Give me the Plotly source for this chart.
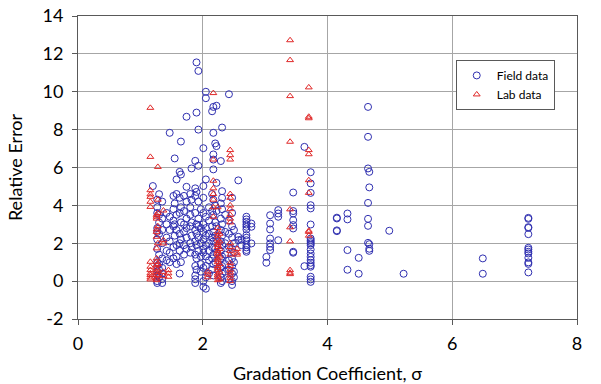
import plotly.graph_objects as go

# Field data: x-column -> list of relative errors
field_cols = {
    1.20: [5.02],
    1.27: [4.3, 3.9, 3.6, 2.8, 2.6, 2.2, 1.7, 1.0, 0.8, 0.5, 0.3, 0.0, -0.1],
    1.30: [4.59, 3.5, 3.1, 2.5, 1.4, 0.9, 0.6, 0.2],
    1.35: [4.2, 3.3, 2.7, 2.0, 1.2, 0.7, 0.4, 0.1, -0.1],
    1.42: [3.6, 3.0, 2.3, 1.6, 1.1],
    1.47: [7.83, 3.4, 2.7, 2.1, 1.5, 1.0],
    1.53: [4.5, 3.8, 3.2, 2.9, 1.8, 1.2],
    1.55: [6.48, 4.1, 3.0, 2.4],
    1.58: [5.37, 4.6, 3.5, 2.7, 1.9, 1.3, 0.9],
    1.63: [5.77, 4.4, 3.6, 2.5, 2.0, 1.6, 0.4],
    1.65: [5.63, 7.37, 3.9, 3.1, 2.2, 1.0],
    1.70: [4.5, 3.7, 3.0, 2.6, 1.9, 1.4],
    1.74: [8.68, 4.98, 4.2, 3.3, 2.8, 2.3, 1.7],
    1.80: [4.6, 3.9, 3.5, 2.9, 2.0, 1.5],
    1.82: [5.95, 4.3, 3.1, 2.4, 1.8],
    1.88: [6.35, 4.9, 4.5, 3.6, 2.7, 2.1, 1.4, 0.8, 0.3, 0.1, -0.1],
    1.90: [11.55, 8.9, 4.71, 3.0, 2.5, 1.9, 1.2, 0.6],
    1.93: [11.1, 8.0, 6.09, 4.2, 3.3, 2.9, 2.3, 1.6],
    1.97: [3.8, 2.8, 2.0, 1.3, 0.9, 0.5],
    2.01: [7.02, 5.02, 4.4, 3.6, 3.0, 2.6, 2.2, 1.7, 1.5, 0.7, 0.0, -0.3],
    2.05: [10.0, 9.66, 5.37, 3.4, 2.8, 2.4, 1.9, 1.3, 0.8, 0.2, -0.4],
    2.10: [3.9, 3.2, 2.5, 2.0, 1.6, 1.1, 0.4],
    2.15: [8.97, 4.6, 3.7, 2.9, 2.3, 1.8, 1.2, 0.6],
    2.17: [9.2, 7.83, 6.69, 6.42, 5.9, 4.3, 3.5, 2.6, 2.1, 1.4, 0.9, 0.3],
    2.20: [7.27, 4.0, 3.1, 2.4, 1.7, 1.0],
    2.22: [9.26, 7.13, 5.19, 3.7, 2.9, 2.2, 1.5],
    2.29: [6.34, 4.1, 3.3, 2.7, 2.1, 1.6, 1.2, 0.7, 0.2, -0.1],
    2.31: [8.11, 4.75, 4.4, 3.8, 3.0, 2.4, 1.9, 1.3, 0.8, 0.4, 0.0],
    2.36: [3.5, 2.6, 2.0, 1.4, 0.9, 0.5],
    2.42: [9.87, 3.2, 2.5, 1.8, 1.1, 0.6, 0.1],
    2.47: [4.4, 3.6, 2.9, 2.3, 1.7, 1.2, 0.8, 0.4, 0.0, -0.2],
    2.50: [2.7, 2.0, 1.5, 1.0, 0.5, 0.2],
    2.57: [5.32, 2.34, 2.16],
    2.62: [2.2, 1.9],
    2.70: [3.4, 3.26, 3.13, 2.99, 2.87, 2.73, 2.43, 2.29, 2.16, 1.9, 1.78, 1.64, 1.55],
    2.78: [3.04, 2.87, 1.99],
    3.02: [1.28, 0.97],
    3.08: [3.48, 3.04, 2.73, 2.25, 1.99, 1.81, 1.64],
    3.21: [3.75, 3.57, 3.4, 2.16],
    3.45: [4.68, 3.7, 3.57, 3.22, 2.96, 2.78, 1.55, 1.5],
    3.63: [7.09, 0.79],
    3.73: [5.75, 5.16, 4.66, 4.01, 3.84, 2.99, 2.25, 2.16, 2.07, 1.99, 1.9, 1.67,
           1.46, 1.28, 1.11, 0.97, 0.84, 0.76, 0.23, 0.09, -0.04],
    4.15: [3.31, 3.35, 2.64, 2.68],
    4.32: [3.57, 3.26, 1.64, 0.6],
    4.50: [1.23, 0.39],
    4.65: [9.2, 7.62, 5.95, 4.13, 3.29, 2.92, 2.02],
    4.67: [5.77, 4.95, 1.95, 1.71, 1.6],
    4.99: [2.66],
    5.22: [0.39],
    6.49: [1.2, 0.39],
    7.22: [3.34, 3.29, 2.85, 2.81, 2.48, 1.76, 1.67, 1.55, 1.46, 1.23, 0.99, 0.91, 0.46],
}

# Lab data: x-column -> list of relative errors
lab_cols = {
    1.16: [9.15, 6.56, 4.8, 4.58, 4.45, 4.19, 3.92, 1.02, 0.76, 0.58, 0.41, 0.32, 0.19, 0.09],
    1.26: [3.5, 3.4, 3.3, 2.73, 2.6, 2.34, 1.73, 1.2, 1.02, 0.84, 0.67, 0.49, 0.32, 0.14, 0.05],
    1.28: [6.03, 4.3, 3.6, 2.9, 2.0, 0.9, 0.6, 0.3],
    1.37: [3.73, 2.16, 1.99, 0.49, 0.26],
    1.45: [0.58, 0.41, 0.23],
    2.08: [0.5, 0.35, 0.2],
    2.17: [9.93, 6.42, 5.3, 4.9, 4.6, 4.3, 3.9, 3.4],
    2.24: [3.9, 2.8, 2.6, 2.4, 2.2, 2.0, 1.8, 1.6, 1.4, 1.2, 1.0, 0.8, 0.6, 0.4, 0.2, 0.05,
           1.9, 1.5, 1.1, 0.7, 0.3],
    2.27: [2.5, 2.1, 1.7, 1.3, 0.9, 0.5, 0.1],
    2.44: [6.92, 6.65, 6.42, 4.6, 4.4, 4.0, 3.8, 3.5, 3.3, 3.1, 2.0, 1.8, 1.6, 1.4, 0.95,
           0.8, 0.6, 0.45, 0.3, 0.15, 0.0],
    2.55: [1.7, 1.5, 1.4],
    3.40: [12.72, 11.67, 9.77, 7.36, 3.79, 2.84, 2.1, 0.58, 0.44, 0.37],
    3.70: [10.23, 8.68, 8.6, 6.92, 6.7, 5.33, 4.66, 2.66, 2.6, 2.4],
}

x_ticks = [0, 2, 4, 6, 8]
y_ticks = [-2, 0, 2, 4, 6, 8, 10, 12, 14]
y_tick_labels = ["-2", "0", "2", "4", "6", "8", "10", "12", "14"]


def flatten(cols):
    xs, ys = [], []
    for xv, yl in cols.items():
        for yv in yl:
            xs.append(xv)
            ys.append(yv)
    return xs, ys


fx, fy = flatten(field_cols)
lx, ly = flatten(lab_cols)

FONT = "Lato"
fig = go.Figure()
fig.add_trace(go.Scatter(
    x=fx, y=fy, mode="markers", name="Field data",
    marker=dict(symbol="circle-open", size=7, color="#2f2fb0", line=dict(width=1)),
))
fig.add_trace(go.Scatter(
    x=lx, y=ly, mode="markers", name="Lab data",
    marker=dict(symbol="triangle-up-open", size=6, color="#e02828", line=dict(width=1)),
))

axis_common = dict(
    showgrid=True, gridcolor="#a6a6a6", gridwidth=1,
    showline=True, linecolor="#595959", linewidth=1, mirror=True,
    ticks="outside", ticklen=5, tickcolor="#595959",
    zeroline=False, automargin=False,
    tickfont=dict(family=FONT, size=18, color="#000000"),
)

fig.update_layout(
    width=601, height=384,
    margin=dict(l=78, r=24, t=16, b=65),
    paper_bgcolor="white", plot_bgcolor="white",
    font=dict(family=FONT, color="#000000"),
    xaxis=dict(range=[0, 8], tickvals=x_ticks, ticklabelstandoff=3,
               title=dict(text="Gradation Coefficient, σ", font=dict(family=FONT, size=18)),
               **axis_common),
    yaxis=dict(range=[-2, 14], tickvals=y_ticks, ticktext=y_tick_labels, ticklabelstandoff=5,
               title=dict(text="Relative Error", font=dict(family=FONT, size=18)),
               **axis_common),
    legend=dict(x=0.757, y=0.855, xanchor="left", yanchor="top",
                bgcolor="white", bordercolor="#595959", borderwidth=1,
                font=dict(family=FONT, size=12, color="#000000"),
                itemwidth=30, tracegroupgap=2),
    showlegend=True,
)

fig.write_html("out.html", config={"displayModeBar": False},
               post_script="document.body.style.margin='0';")
